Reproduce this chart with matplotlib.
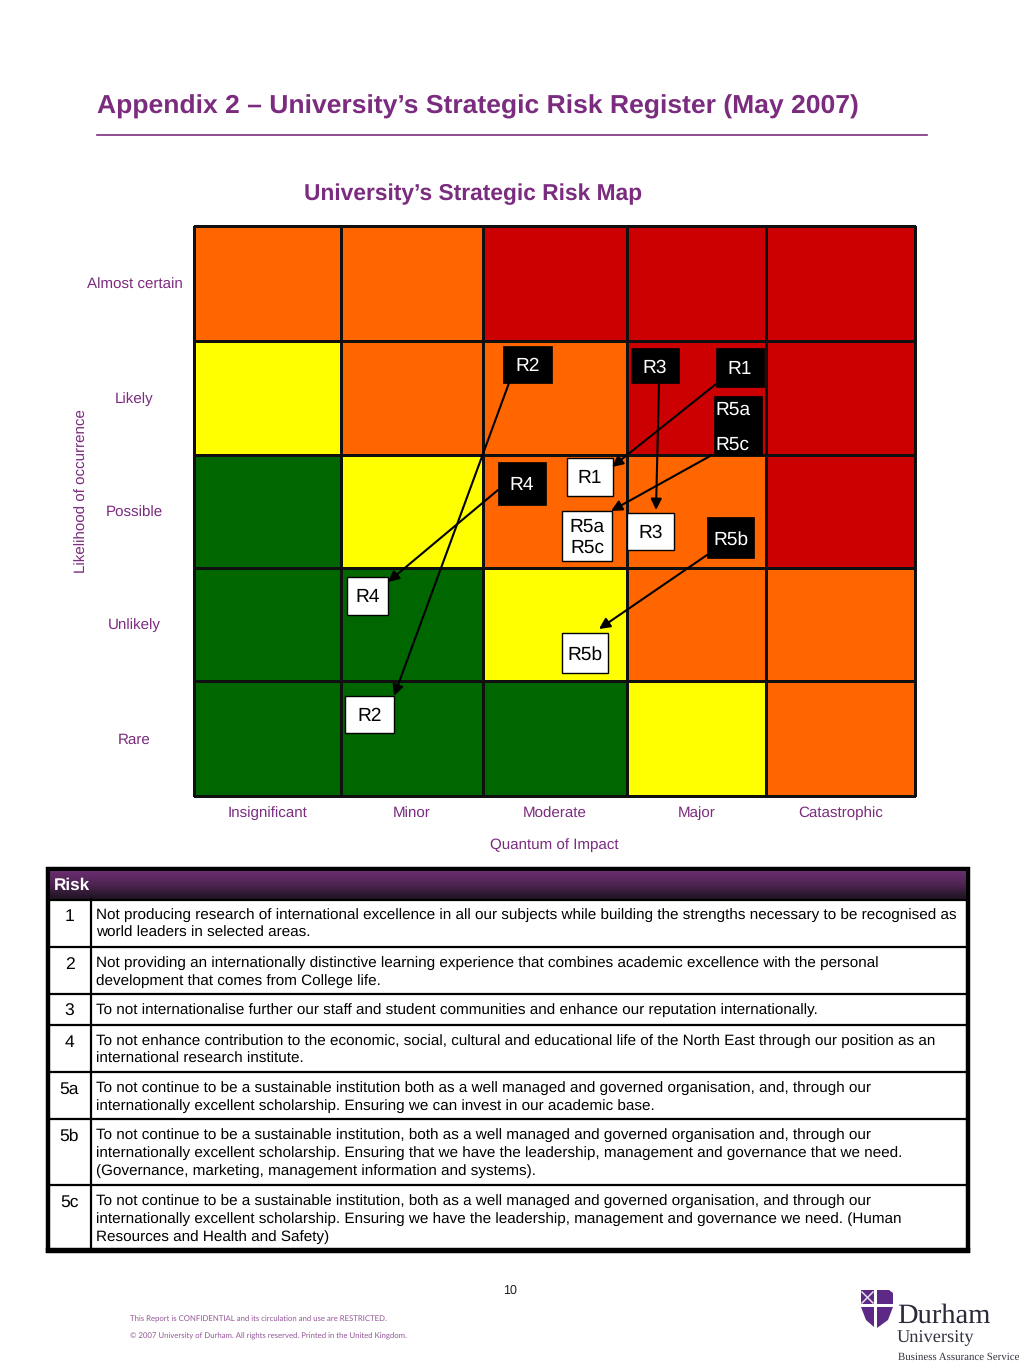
import numpy as np
import matplotlib
matplotlib.use("Agg")
import matplotlib.pyplot as plt
from matplotlib.colors import ListedColormap, LinearSegmentedColormap
from matplotlib.patches import Rectangle, Polygon

plt.rcParams['font.family'] = ['Liberation Sans', 'DejaVu Sans']
plt.rcParams['text.hinting'] = 'no_hinting'

PURPLE = '#7B2C7F'
impact = ['Insignificant', 'Minor', 'Moderate', 'Major', 'Catastrophic']
likelihood = ['Almost certain', 'Likely', 'Possible', 'Unlikely', 'Rare']
# 0 green, 1 yellow, 2 orange, 3 red
risk_levels = [[2, 2, 3, 3, 3],
               [1, 2, 2, 3, 3],
               [0, 1, 2, 2, 3],
               [0, 0, 1, 2, 2],
               [0, 0, 0, 1, 2]]
col_edges = [194, 341, 483, 627, 766, 915]
row_edges = [226, 341, 455, 568, 681, 796]
level_colors = ['#006600', '#FFFF00', '#FF6600', '#CC0000']

# label, left, top, right, bottom
inherent = [('R2', 503, 346, 552, 383), ('R3', 631, 348, 679, 383),
            ('R1', 716, 348, 764, 387), ('R5a\n\nR5c', 714, 396, 762, 455),
            ('R4', 498, 462, 546, 505), ('R5b', 707, 517, 754, 558)]
residual = [('R1', 567, 458, 613, 496), ('R5a\nR5c', 562, 511, 612, 561),
            ('R3', 627, 513, 674, 550), ('R4', 347, 577, 388, 615),
            ('R5b', 562, 633, 608, 673), ('R2', 345, 696, 394, 733)]
# from x, from y, to x, to y
moves = [(509, 383, 394, 696), (659, 383, 656, 510), (716, 384, 612, 467),
         (712, 455, 611, 511), (498, 490, 388, 582), (707, 555, 599, 629)]

risk_ids = ['1', '2', '3', '4', '5a', '5b', '5c']
risk_text = [
    'Not producing research of international excellence in all our subjects while building the strengths necessary to be recognised as\nworld leaders in selected areas.',
    'Not providing an internationally distinctive learning experience that combines academic excellence with the personal\ndevelopment that comes from College life.',
    'To not internationalise further our staff and student communities and enhance our reputation internationally.',
    'To not enhance contribution to the economic, social, cultural and educational life of the North East through our position as an\ninternational research institute.',
    'To not continue to be a sustainable institution both as a well managed and governed organisation, and, through our\ninternationally excellent scholarship. Ensuring we can invest in our academic base.',
    'To not continue to be a sustainable institution, both as a well managed and governed organisation and, through our\ninternationally excellent scholarship. Ensuring that we have the leadership, management and governance that we need.\n(Governance, marketing, management information and systems).',
    'To not continue to be a sustainable institution, both as a well managed and governed organisation, and through our\ninternationally excellent scholarship. Ensuring we have the leadership, management and governance we need. (Human\nResources and Health and Safety)',
]
table_rows = [899, 947, 994, 1025, 1072, 1119, 1185, 1250]

fig = plt.figure(figsize=(10.24, 13.65), dpi=100, facecolor='white')
ax = fig.add_axes([0, 0, 1, 1])
ax.set_xlim(0, 1024)
ax.set_ylim(1365, 0)
ax.axis('off')

# headings
ax.text(97, 106.5, 'Appendix 2 \u2013 University\u2019s Strategic Risk Register (May 2007)',
        color=PURPLE, fontsize=19.07, fontweight='bold', va='center', ha='left')
ax.plot([97, 927], [134.5, 134.5], color=PURPLE, lw=1.2)
ax.text(473, 194, 'University\u2019s Strategic Risk Map', color=PURPLE,
        fontsize=16.4, fontweight='bold', va='center', ha='center')

# matrix
ax.pcolormesh(col_edges, row_edges, np.array(risk_levels),
              cmap=ListedColormap(level_colors), vmin=-0.5, vmax=3.5,
              edgecolors='#101010', linewidth=0.9, zorder=1)
for i, name in enumerate(impact):
    ax.text((col_edges[i] + col_edges[i + 1]) / 2, 813.5, name,
            color=PURPLE, fontsize=10.9, ha='center', va='center')
for i, name in enumerate(likelihood):
    ax.text(134.5, (row_edges[i] + row_edges[i + 1]) / 2 + 1, name,
            color=PURPLE, fontsize=10.9, ha='center', va='center')
ax.text(554.5, 845, 'Quantum of Impact', color=PURPLE, fontsize=10.9, ha='center', va='center')
ax.text(82, 491, 'Likelihood of occurrence', color=PURPLE, fontsize=10.9,
        rotation=90, ha='center', va='center')

# markers
for label, l, t, r, b in inherent:
    ax.add_patch(Rectangle((l, t), r - l, b - t, fc='black', ec='black', lw=0.5, zorder=3))
    if '\n\n' in label:
        ax.text(l + 1, (t + b) / 2 + 2, label, color='white', fontsize=13.8,
                ha='left', va='center', zorder=6, linespacing=1.0)
    else:
        ax.text((l + r) / 2, (t + b) / 2 + 2, label, color='white', fontsize=13.8,
                ha='center', va='center', zorder=6)
for label, l, t, r, b in residual:
    ax.add_patch(Rectangle((l, t), r - l, b - t, fc='white', ec='black', lw=1.0, zorder=3))
    ax.text((l + r) / 2, (t + b) / 2 + 1.5, label, color='black', fontsize=13.8,
            ha='center', va='center', zorder=6, linespacing=1.25)
for x0, y0, x1, y1 in moves:
    ax.annotate('', xy=(x1, y1), xytext=(x0, y0), zorder=5,
                arrowprops=dict(arrowstyle='-|>,head_length=0.65,head_width=0.32', color='black',
                                lw=1.5, shrinkA=0, shrinkB=0))

# table
ax.add_patch(Rectangle((48, 869), 920, 382, fc='white', ec='black', lw=3.2, zorder=2))
grad = LinearSegmentedColormap.from_list('hdr', ['#6A2C70', '#4C2450', '#1E1420'])
ax.imshow(np.linspace(0, 1, 64).reshape(-1, 1), cmap=grad, aspect='auto',
          extent=(50, 966, 899, 871), zorder=3)
ax.set_xlim(0, 1024)
ax.set_ylim(1365, 0)
ax.text(54, 885, 'Risk', color='white', fontsize=12.3, fontweight='bold', va='center', zorder=4)
ax.plot([48, 968], [899.5, 899.5], color='black', lw=1.6, zorder=4)
for i, rid in enumerate(risk_ids):
    top, bottom = table_rows[i], table_rows[i + 1]
    ax.plot([48, 968], [bottom, bottom], color='black', lw=1.6 if i < 6 else 3.2, zorder=4)
    ax.text(69.5, top + 17.5, rid, color='black', fontsize=12.6, ha='center', va='center', zorder=4)
    ax.text(96.5, top + 9.5, risk_text[i], color='black', fontsize=10.95, ha='left', va='top',
            linespacing=1.33, zorder=4)
ax.plot([90.5, 90.5], [899, 1250], color='black', lw=1.6, zorder=4)

# footer
ax.text(510, 1290.5, '10', fontsize=9, ha='center', va='center', color='#222222')
ax.text(130, 1319, 'This Report is CONFIDENTIAL and its circulation and use are RESTRICTED.',
        color=PURPLE, fontsize=5.57, family='Lato', va='center', alpha=0.8)
ax.text(130, 1336, '\u00a9 2007 University of Durham. All rights reserved. Printed in the United Kingdom.',
        color=PURPLE, fontsize=5.6, family='Lato', va='center', alpha=0.8)

# crest
SH = '#5C2A86'
ax.add_patch(Polygon([(861, 1290), (874, 1290), (874, 1304), (861, 1304)], fc=SH, ec='none'))
ax.plot([862, 873], [1303, 1292], color='#E6DCEC', lw=1.1)
ax.plot([862, 873], [1292, 1303], color='#E6DCEC', lw=1.1)
ax.add_patch(Polygon([(877, 1290), (889, 1290), (893, 1293), (893, 1304), (877, 1304)], fc=SH, ec='none'))
ax.add_patch(Polygon([(861, 1307), (874, 1307), (874, 1327), (866, 1320)], fc=SH, ec='none'))
ax.add_patch(Polygon([(877, 1307), (893, 1307), (888, 1320), (877, 1328)], fc=SH, ec='none'))
ax.text(897, 1316, 'Durham', family='Liberation Serif', fontsize=20.5, color='#2A2A3A', va='center')
ax.text(897, 1338, 'University', family='Liberation Serif', fontsize=13.2, color='#333340', va='center')
ax.text(898, 1357, 'Business Assurance Service', family='Liberation Serif', fontsize=7.8,
        color='#333340', va='center')

fig.savefig('out.png', dpi=100, facecolor='white')
